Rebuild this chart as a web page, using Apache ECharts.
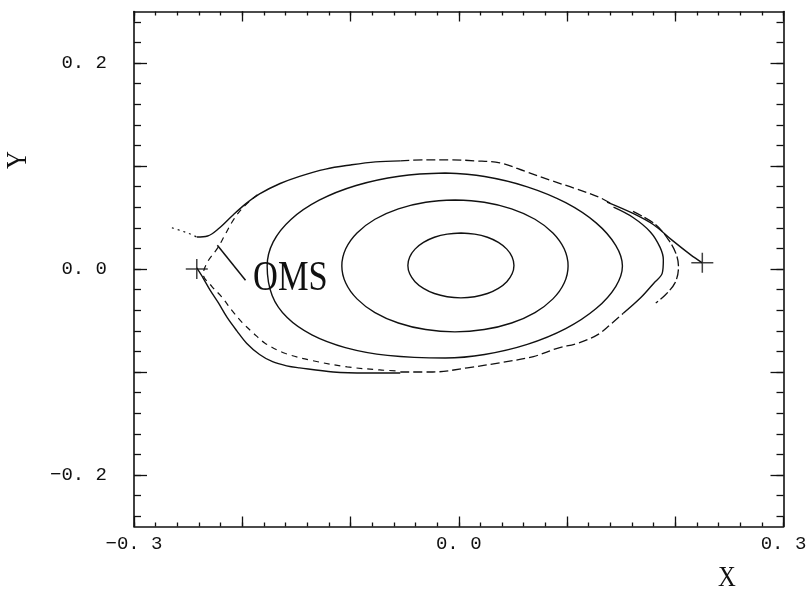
<!DOCTYPE html>
<html><head><meta charset="utf-8">
<script src="https://cdn.jsdelivr.net/npm/echarts@6/dist/echarts.min.js"></script>
<style>html,body{margin:0;padding:0;background:#fff}#c{width:811px;height:594px}</style>
</head><body><div id="c"></div>
<script>
// ---- axis ticks / labels ----
const xTickValues = [-0.3, 0.0, 0.3];
const xTickLabels = ['\u22120. 3', '0. 0', '0. 3'];
const yTickValues = [-0.2, 0.0, 0.2];
const yTickLabels = ['\u22120. 2', '0. 0', '0. 2'];
const xMajorTicks = [-0.3, -0.2, -0.1, 0, 0.1, 0.2, 0.3];
const yMajorTicks = [-0.2, -0.1, 0, 0.1, 0.2];

// ---- closed flux surfaces ----
const contourInner = [[0.002,0.035],[-0.0107,0.0339],[-0.0225,0.0308],[-0.0326,0.0258],[-0.0404,0.0193],[-0.0453,0.0117],[-0.047,0.0035],[-0.0453,-0.0047],[-0.0404,-0.0123],[-0.0326,-0.0188],[-0.0225,-0.0238],[-0.0107,-0.0269],[0.002,-0.028],[0.0147,-0.0269],[0.0265,-0.0238],[0.0366,-0.0188],[0.0444,-0.0123],[0.0493,-0.0047],[0.051,0.0035],[0.0493,0.0117],[0.0444,0.0193],[0.0366,0.0258],[0.0265,0.0308],[0.0147,0.0339],[0.002,0.035]];
const contourMiddle = [[-0.0035,0.067],[-0.0305,0.0648],[-0.0558,0.0584],[-0.0774,0.0483],[-0.094,0.035],[-0.1044,0.0196],[-0.108,0.003],[-0.1044,-0.0136],[-0.094,-0.029],[-0.0774,-0.0423],[-0.0558,-0.0524],[-0.0305,-0.0588],[-0.0035,-0.061],[0.0235,-0.0588],[0.0488,-0.0524],[0.0704,-0.0423],[0.087,-0.029],[0.0974,-0.0136],[0.101,0.003],[0.0974,0.0196],[0.087,0.035],[0.0704,0.0483],[0.0488,0.0584],[0.0235,0.0648],[-0.0035,0.067]];
const contourOuter = [[-0.0125,0.0932],[0.0239,0.0898],[0.0633,0.0798],[0.0988,0.0644],[0.1269,0.0448],[0.1450,0.0230],[0.1512,0.0029],[0.1450,-0.0170],[0.1269,-0.0384],[0.0988,-0.0579],[0.0633,-0.0732],[0.0239,-0.0830],[-0.0125,-0.0864],[-0.0658,-0.0839],[-0.1048,-0.0763],[-0.1357,-0.0640],[-0.1585,-0.0472],[-0.1723,-0.0260],[-0.1770,0.0029],[-0.1714,0.0263],[-0.1550,0.0481],[-0.1289,0.0668],[-0.0948,0.0811],[-0.0551,0.0901],[-0.0125,0.0932]];

// ---- separatrix region ----
const sepTopDotted = [[-0.265,0.040],[-0.256,0.037],[-0.248,0.034],[-0.242,0.031]];
const sepTopSolid = [[-0.242,0.031],[-0.232,0.032],[-0.222,0.039],[-0.208,0.053],[-0.196,0.064],[-0.184,0.073],[-0.165,0.083],[-0.147,0.090],[-0.123,0.097],[-0.100,0.101],[-0.077,0.104],[-0.054,0.105]];
const sepTopDashed = [[-0.054,0.105],[-0.031,0.106],[-0.008,0.106],[0.015,0.105],[0.038,0.103],[0.061,0.095],[0.085,0.086],[0.108,0.078],[0.131,0.069],[0.143,0.062]];
const sepRightLine = [[0.137,0.065],[0.161,0.054],[0.180,0.043],[0.197,0.028],[0.214,0.014],[0.225,0.006]];
const sepRightLobeInner = [[0.143,0.060],[0.161,0.050],[0.177,0.036],[0.186,0.021],[0.189,0.009],[0.188,-0.004],[0.180,-0.014],[0.168,-0.028],[0.152,-0.043]];
const sepRightLobeOuter = [[0.161,0.056],[0.182,0.043],[0.194,0.028],[0.201,0.014],[0.203,0.002],[0.200,-0.013],[0.191,-0.025],[0.182,-0.033]];
const sepBottomSolid = [[-0.242,0.001],[-0.236,-0.009],[-0.230,-0.020],[-0.222,-0.033],[-0.214,-0.047],[-0.205,-0.060],[-0.196,-0.072],[-0.184,-0.083],[-0.172,-0.090],[-0.159,-0.094],[-0.147,-0.096],[-0.116,-0.100],[-0.085,-0.101],[-0.054,-0.101]];
const sepBottomDashed = [[-0.054,-0.100],[-0.024,-0.100],[0.008,-0.096],[0.038,-0.091],[0.069,-0.085],[0.091,-0.077],[0.110,-0.072],[0.128,-0.064],[0.140,-0.054],[0.152,-0.043]];
const sepLeftDashed = [[-0.186,0.072],[-0.199,0.060],[-0.208,0.048],[-0.216,0.033],[-0.223,0.020],[-0.232,0.007],[-0.236,-0.005],[-0.228,-0.017],[-0.219,-0.027],[-0.209,-0.041],[-0.200,-0.052],[-0.190,-0.062],[-0.179,-0.072],[-0.160,-0.082],[-0.135,-0.089],[-0.103,-0.095],[-0.073,-0.098],[-0.054,-0.099]];

// ---- X-points and annotation ----
const xPoints = [[-0.242, 0.0], [0.225, 0.006]];
const omsLeader = [[-0.223, 0.023], [-0.197, -0.011]];
const omsLabel = 'OMS';
const omsLabelPos = [-0.190, -0.010];

function minorTicks(lo, hi) {
  const out = [];
  for (let i = Math.round(lo / 0.02); i <= Math.round(hi / 0.02); i++) out.push(Math.round(i * 2) / 100);
  return out;
}
const xMinorTicks = minorTicks(-0.3, 0.3);
const yMinorTicks = minorTicks(-0.24, 0.24);

const INK = '#111';
const tickFont = { fontFamily: 'Liberation Mono', fontSize: 19, color: INK };

function xAx(pos, major, showLine, showLabel) {
  return {
    type: 'value', min: -0.3, max: 0.3, position: pos, gridIndex: 0,
    axisLine: { show: showLine, onZero: false, lineStyle: { color: INK, width: 1.6 } },
    axisTick: { show: true, inside: true, length: major ? 10 : 4, customValues: major ? xMajorTicks : xMinorTicks, lineStyle: { color: INK, width: 1.3 } },
    axisLabel: showLabel ? Object.assign({ show: true, margin: 8, customValues: xTickValues,
      formatter: v => { const i = xTickValues.findIndex(t => Math.abs(t - v) < 1e-9); return i >= 0 ? xTickLabels[i] : ''; } }, tickFont) : { show: false },
    splitLine: { show: false }
  };
}
function yAx(pos, major, showLine, showLabel) {
  return {
    type: 'value', min: -0.25, max: 0.25, position: pos, gridIndex: 0,
    axisLine: { show: showLine, onZero: false, lineStyle: { color: INK, width: 1.6 } },
    axisTick: { show: true, inside: true, length: major ? 13 : 7, customValues: major ? yMajorTicks : yMinorTicks, lineStyle: { color: INK, width: 1.3 } },
    axisLabel: showLabel ? Object.assign({ show: true, margin: 27, customValues: yTickValues,
      formatter: v => { const i = yTickValues.findIndex(t => Math.abs(t - v) < 1e-9); return i >= 0 ? yTickLabels[i] : ''; } }, tickFont) : { show: false },
    splitLine: { show: false }
  };
}

function line(data, type, width, smooth) {
  return {
    type: 'line', data: data, xAxisIndex: 0, yAxisIndex: 0, symbol: 'none', smooth: smooth === undefined ? 0.35 : smooth,
    lineStyle: { color: INK, width: width || 1.4, type: type || 'solid' }, z: 3, silent: true
  };
}

const chart = echarts.init(document.getElementById('c'), null, { renderer: 'canvas' });
chart.setOption({
  animation: false,
  backgroundColor: '#fff',
  grid: { left: 134, right: 27.5, top: 11.5, bottom: 67.5, containLabel: false },
  xAxis: [xAx('bottom', true, true, true), xAx('bottom', false, false, false), xAx('top', true, true, false), xAx('top', false, false, false)],
  yAxis: [yAx('left', true, true, true), yAx('left', false, false, false), yAx('right', true, true, false), yAx('right', false, false, false)],
  series: [
    line(contourInner, 'solid', 1.4, 0.4), line(contourMiddle, 'solid', 1.4, 0.4), line(contourOuter, 'solid', 1.4, 0.4),
    line(sepTopDotted, [2, 4], 1.2),
    line(sepTopSolid),
    line(sepTopDashed, [9, 4], 1.3),
    line(sepRightLine),
    line(sepRightLobeInner),
    line(sepRightLobeOuter, [10, 3], 1.3),
    line(sepBottomSolid),
    line(sepBottomDashed, [9, 4], 1.3),
    line(sepLeftDashed, [6, 5], 1.2),
    line(omsLeader, 'solid', 1.5, false),
    {
      type: 'scatter', data: xPoints, xAxisIndex: 0, yAxisIndex: 0,
      symbol: 'path://M0 9.25h22v1.5h-22z M10.25 0h1.5v20h-1.5z', symbolSize: [22, 20],
      itemStyle: { color: INK }, z: 4, silent: true
    }
  ]
});

const p = chart.convertToPixel({ xAxisIndex: 0, yAxisIndex: 0 }, omsLabelPos);
chart.setOption({
  graphic: [
    { type: 'text', x: p[0], y: p[1], scaleX: 0.82, silent: true,
      style: { text: omsLabel, fontFamily: 'Liberation Serif', fontSize: 42, fill: INK, textAlign: 'left', textVerticalAlign: 'middle' } },
    { type: 'text', x: 727, y: 578, scaleX: 0.85, silent: true,
      style: { text: 'X', fontFamily: 'Liberation Serif', fontSize: 29, fill: INK, textAlign: 'center', textVerticalAlign: 'middle' } },
    { type: 'text', x: 18, y: 160, rotation: Math.PI / 2, scaleX: 0.85, silent: true,
      style: { text: 'Y', fontFamily: 'Liberation Serif', fontSize: 29, fill: INK, textAlign: 'center', textVerticalAlign: 'middle' } }
  ]
});
</script>
</body></html>
